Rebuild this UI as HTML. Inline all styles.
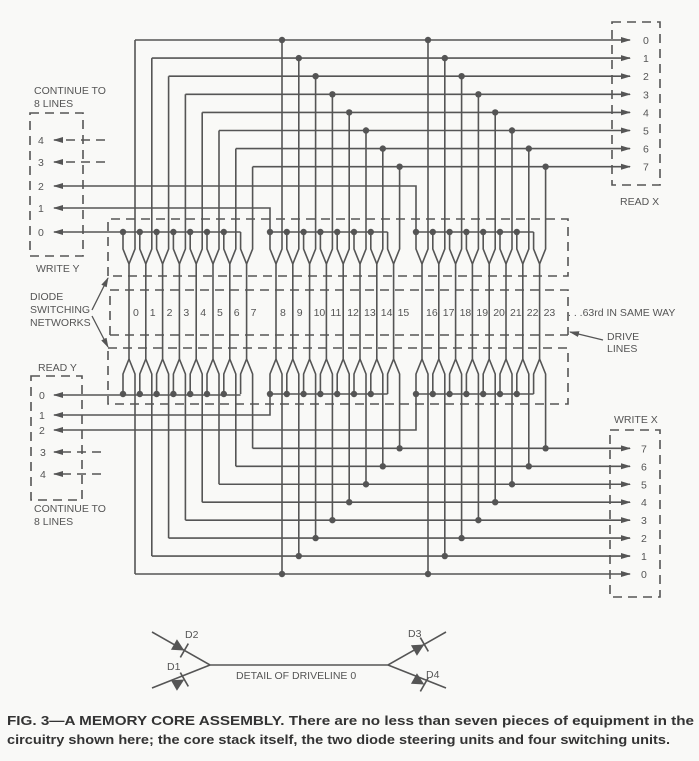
<!DOCTYPE html>
<html><head><meta charset="utf-8"><style>
html,body{margin:0;padding:0;background:#f9f9f7;}
svg{display:block;}
text{font-family:"Liberation Sans",sans-serif;fill:#555;}
</style></head><body>
<svg id="s" width="699" height="761" viewBox="0 0 699 761" xmlns="http://www.w3.org/2000/svg">
<defs><marker id="ar" markerWidth="10" markerHeight="8" refX="9" refY="4" orient="auto-start-reverse" markerUnits="userSpaceOnUse"><path d="M0,1 L10,4 L0,7 Z" fill="#555"/></marker></defs>
<g id="g" stroke="#555" stroke-width="1.6" fill="none"></g>
<g id="t" font-size="10.5"></g>
<text x="7" y="725" font-size="13" font-weight="bold" textLength="687" lengthAdjust="spacingAndGlyphs" style="fill:#333">FIG. 3—A MEMORY CORE ASSEMBLY. There are no less than seven pieces of equipment in the</text>
<text x="7" y="744" font-size="13" font-weight="bold" textLength="663" lengthAdjust="spacingAndGlyphs" style="fill:#333">circuitry shown here; the core stack itself, the two diode steering units and four switching units.</text>
</svg>
<script>
const g=document.getElementById('g'),t=document.getElementById('t'),NS='http://www.w3.org/2000/svg';
function el(p,tag,a,txt){const e=document.createElementNS(NS,tag);for(const k in a)e.setAttribute(k,a[k]);if(txt!==undefined)e.textContent=txt;p.appendChild(e);return e;}
function L(x1,y1,x2,y2,ex){const a={x1,y1,x2,y2};Object.assign(a,ex||{});return el(g,'line',a);}
function P(d,ex){const a={d};Object.assign(a,ex||{});return el(g,'path',a);}
function D(x,y){el(g,'circle',{cx:x,cy:y,r:3.2,fill:'#555',stroke:'none'});}
function T(x,y,s,ex){const a={x,y};Object.assign(a,ex||{});return el(t,'text',a,s);}
const dash={'stroke-dasharray':'9,6'};
const base=[129,276,422],pitch=16.8;
const rxY=k=>40+18.1*k, wxY=k=>574-17.95*k;
const AX=54;
for(let gi=0;gi<3;gi++){
  for(let k=0;k<8;k++){
    const cx=base[gi]+pitch*k, l=cx-6, r=cx+6;
    P(`M${l},232 L${l},249 L${cx},264 L${cx},359 L${l},374 L${l},394`);
    P(`M${r},${rxY(k)} L${r},249 L${cx},264`);
    P(`M${r},${wxY(k)} L${r},374 L${cx},359`);
    if(gi>0){D(r,rxY(k));D(r,wxY(k));}
    if(k<7){D(l,232);D(l,394);}
    T(cx+4,316,String(gi*8+k));
  }
  const l0=base[gi]-6,l7=base[gi]+pitch*7-6;
  if(gi==0){L(AX,232,l7,232,{'marker-start':'url(#ar)'});L(AX,395,l7,395,{'marker-start':'url(#ar)'});}
  if(gi==1){P(`M${AX},208 L${l0},208 L${l0},232 L${l7},232`,{'marker-start':'url(#ar)'});P(`M${AX},415 L${l0},415 L${l0},394 L${l7},394`,{'marker-start':'url(#ar)'});}
  if(gi==2){P(`M${AX},186 L${l0},186 L${l0},232 L${l7},232`,{'marker-start':'url(#ar)'});P(`M${AX},430 L${l0},430 L${l0},394 L${l7},394`,{'marker-start':'url(#ar)'});}
}
for(let k=0;k<8;k++){
  const r=base[0]+pitch*k+6;
  L(r,rxY(k),630,rxY(k),{'marker-end':'url(#ar)'});
  T(643,rxY(k)+4,String(k));
  L(r,wxY(k),630,wxY(k),{'marker-end':'url(#ar)'});
  T(641,wxY(k)+4,String(k));
}
[[140,'4'],[162,'3']].forEach(([y,s])=>{L(105,y,AX,y,Object.assign({'marker-end':'url(#ar)'},dash));T(38,y+4,s);});
[[186,'2'],[208,'1'],[232,'0']].forEach(([y,s])=>T(38,y+4,s));
[[452,'3'],[474,'4']].forEach(([y,s])=>{L(101,y,AX,y,Object.assign({'marker-end':'url(#ar)'},dash));T(40,y+4,s);});
[[395,'0'],[415,'1'],[430,'2']].forEach(([y,s])=>T(39,y+4,s));
const dw={'stroke-dasharray':'9,6','stroke-width':1.6};
el(g,'rect',Object.assign({x:30,y:113,width:53,height:143},dw));
el(g,'rect',Object.assign({x:31,y:376,width:51,height:124},dw));
el(g,'rect',Object.assign({x:612,y:22,width:48,height:163},dw));
el(g,'rect',Object.assign({x:610,y:430,width:50,height:167},dw));
P('M108,276 L108,219 L568,219 L568,276 L108,276',dash);
P('M110,335 L110,290 L568,290 L568,335',dash);L(110,335,568,335,dash);
P('M108,348 L568,348 L568,404 L108,404 L108,348',dash);
T(34,94,'CONTINUE TO');T(34,107,'8 LINES');T(36,272,'WRITE Y');
T(38,371,'READ Y');T(34,512,'CONTINUE TO');T(34,525,'8 LINES');
T(620,205,'READ X');T(614,423,'WRITE X');
T(30,300,'DIODE');T(30,313,'SWITCHING');T(30,326,'NETWORKS');
T(568,316,'. . .63rd IN SAME WAY');
T(607,340,'DRIVE');T(607,352,'LINES');
L(92,310,108,278,{'marker-end':'url(#ar)','stroke-width':1.3});
L(92,316,108,347,{'marker-end':'url(#ar)','stroke-width':1.3});
L(603,340,570,332,{'marker-end':'url(#ar)','stroke-width':1.3});
P('M152,632 L210,665 L388,665 L446,632');P('M152,688 L210,665');P('M388,665 L446,688');
function tri(x,y,ang){const s=el(g,'g',{transform:`translate(${x},${y}) rotate(${ang})`});el(s,'path',{d:'M-7,-6 L-7,6 L5,0 Z',fill:'#555',stroke:'none'});el(s,'line',{x1:5,y1:-8,x2:5,y2:8});}
tri(180,648,30);tri(180,682,-30);tri(420,647,-30);tri(420,682,30);
T(185,638,'D2');T(167,670,'D1');T(408,637,'D3');T(426,678,'D4');
T(236,679,'DETAIL OF DRIVELINE 0');
</script>
</body></html>
